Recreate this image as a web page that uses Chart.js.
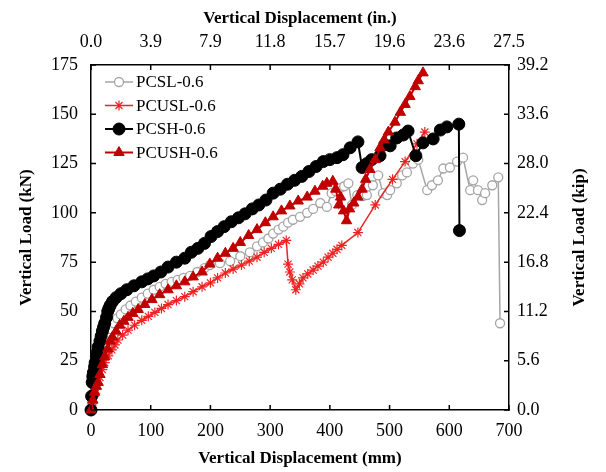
<!DOCTYPE html>
<html>
<head>
<meta charset="utf-8">
<script src="https://cdn.jsdelivr.net/npm/chart.js@4/dist/chart.umd.min.js"></script>
<style>
  html, body { margin: 0; padding: 0; background: #fff; }
  #wrap { width: 606px; height: 472px; }
</style>
</head>
<body>
<div id="wrap"><canvas id="chart" width="606" height="472"></canvas></div>
<script>
// Displacement in mm, load in kN
const pcslDisp = [0, 2, 5, 8, 11, 14, 17, 20, 24, 28, 33, 38, 44, 50, 58, 66, 75, 85, 95, 105, 115, 125, 135, 145, 155, 166, 178, 190, 199, 216, 233, 250, 266, 278, 288, 297, 305, 314, 322, 330, 338, 350, 362, 372, 384, 395, 403, 410, 417, 424, 431, 437, 446, 455, 462, 472, 481, 489, 496, 501, 512, 521, 529, 539, 548, 563, 571, 581, 590, 601, 613, 623, 635, 640, 648, 655, 660, 672, 682, 685]
const pcslLoad = [0, 4, 9, 13, 17, 21, 25, 29, 33, 37, 41, 44, 46.5, 48.5, 51, 53, 55, 57, 59, 61, 62.5, 64, 65, 66, 67, 68, 70, 72, 73.5, 74.5, 75.5, 78, 80, 83, 85, 87, 89.5, 91.5, 93, 95, 96.5, 98, 100, 102, 105, 103, 110, 111, 112.5, 113.5, 115, 104, 109, 108.5, 109, 114, 119, 110, 109, 111.5, 115, 119, 120.5, 125, 127, 111.5, 114, 116.5, 122.5, 123, 126, 128, 111.5, 116.5, 111.5, 106.5, 110, 114, 118, 44]

const pcuslDisp = [0, 3, 7, 11, 15, 19, 23, 29, 35, 40, 45, 53, 62, 73, 85, 96, 107, 118, 129, 143, 157, 171, 186, 200, 212, 225, 238, 252, 265, 278, 290, 302, 314, 327, 330, 333, 337, 343, 349, 355, 363, 372, 380, 389, 397, 405, 412, 420, 447, 476, 505, 526, 546, 559]
const pcuslLoad = [0, 4, 8.5, 12.5, 16.5, 20.5, 24, 27.5, 30.5, 33, 35.5, 38, 40.5, 43, 45.5, 47.5, 49.5, 51.5, 53.5, 55.5, 57.5, 60, 62.5, 64.5, 67, 69.5, 71.5, 73.5, 75.5, 77.5, 80, 82, 84, 86, 74, 70, 66, 61, 64, 67, 69, 71, 73, 75, 77.5, 79.5, 81.5, 83.5, 90, 104, 117, 126, 135, 141]

const pcshDisp = [0, 1, 2, 3, 4, 6, 7, 9, 10, 12, 15, 17, 19, 21, 23, 26, 28, 30, 32, 36, 42, 50, 60, 72, 85, 95, 105, 117, 129, 143, 157, 168, 179, 190, 201, 212, 223, 235, 247, 258, 270, 281, 293, 305, 317, 329, 341, 353, 365, 377, 389, 400, 412, 422, 434, 447, 454, 462, 470, 484, 492, 501, 512, 523, 531, 544, 556, 573, 585, 596, 616, 617]
const pcshLoad = [0, 7, 14, 17, 19, 22, 24, 27, 29, 32, 35, 37.5, 40, 42, 44, 47, 50, 51.5, 53, 55, 57, 59, 61, 63, 65, 66.5, 68, 70, 72.5, 75, 77, 80, 82, 84.5, 88, 90.5, 93, 95.5, 97.5, 99.5, 102, 104, 106.5, 110, 112, 114.5, 116.5, 118.5, 121, 123.5, 126, 127, 128, 129.5, 133, 136, 123, 125, 127, 129, 134.5, 134, 138, 139.5, 141.5, 129, 135.5, 137.5, 142, 143.6, 145, 91]

const pcushDisp = [0, 3, 6, 9, 12, 15, 19, 23, 28, 32, 36, 42, 48, 55, 62, 70, 79, 90, 102, 115, 129, 143, 157, 171, 186, 199, 212, 225, 238, 250, 264, 278, 292, 305, 319, 333, 347, 362, 375, 388, 395, 405, 410, 415, 418, 423, 428, 433, 440, 447, 454, 460, 467, 476, 484, 491, 498, 509, 518, 526, 534, 543, 548, 556]
const pcushLoad = [0, 5, 9, 12, 14, 18, 23, 27, 31, 35, 37, 40, 43, 45, 47, 49, 51, 53.5, 56, 58.5, 61, 63, 65, 67.5, 70, 74, 77, 79.5, 82, 85, 88.5, 91.5, 95, 98, 101, 103.5, 106, 108, 111, 113.5, 115, 116, 112, 104, 108, 101, 96, 102, 105, 108, 112, 117, 122, 127, 133, 137, 141, 146, 151, 155, 159, 164, 167, 171]

// secondary axis labels (same positions as the mm / kN ticks)
const inchTickLabels = ['0.0', '3.9', '7.9', '11.8', '15.7', '19.6', '23.6', '27.5']
const kipTickLabels = ['0.0', '5.6', '11.2', '16.8', '22.4', '28.0', '33.6', '39.2']
const kipTitle = 'Vertical Load (kip)'

const SERIF = '"Liberation Serif", "Times New Roman", serif'

function points (xs, ys) {
  return xs.map((x, i) => ({ x, y: ys[i] }))
}

// inward tick marks on all four sides
const innerTicks = {
  id: 'innerTicks',
  afterDatasetsDraw (chart) {
    const { ctx, chartArea: a, scales } = chart
    const len = 5
    ctx.save()
    ctx.strokeStyle = '#000'
    ctx.lineWidth = 1.5
    ctx.beginPath()
    for (const t of scales.x.ticks) {
      const px = scales.x.getPixelForValue(t.value)
      ctx.moveTo(px, a.bottom)
      ctx.lineTo(px, a.bottom - len)
    }
    for (const t of scales.x2.ticks) {
      const px = scales.x2.getPixelForValue(t.value)
      ctx.moveTo(px, a.top)
      ctx.lineTo(px, a.top + len)
    }
    for (const t of scales.y.ticks) {
      const py = scales.y.getPixelForValue(t.value)
      ctx.moveTo(a.left, py)
      ctx.lineTo(a.left + len, py)
    }
    for (const t of scales.y2.ticks) {
      const py = scales.y2.getPixelForValue(t.value)
      ctx.moveTo(a.right, py)
      ctx.lineTo(a.right - len, py)
    }
    ctx.stroke()
    ctx.restore()
  }
}

// right axis title reads bottom-to-top in the original, like the left one
const rightTitle = {
  id: 'rightTitle',
  afterDraw (chart) {
    const { ctx, chartArea: a } = chart
    ctx.save()
    ctx.translate(580, (a.top + a.bottom) / 2)
    ctx.rotate(-Math.PI / 2)
    ctx.fillStyle = '#000'
    ctx.font = 'bold 17px ' + SERIF
    ctx.textAlign = 'center'
    ctx.textBaseline = 'middle'
    ctx.fillText(kipTitle, 0, 0)
    ctx.restore()
  }
}

// legend drawn inside the plot, line sample with marker in the middle
const insideLegend = {
  id: 'insideLegend',
  afterDraw (chart) {
    const { ctx, chartArea } = chart
    const x0 = chartArea.left + 14
    let y = chartArea.top + 17
    for (const ds of chart.data.datasets) {
      ctx.save()
      ctx.strokeStyle = ds.borderColor
      ctx.lineWidth = ds.borderWidth
      ctx.beginPath()
      ctx.moveTo(x0, y)
      ctx.lineTo(x0 + 28, y)
      ctx.stroke()
      ctx.fillStyle = ds.pointBackgroundColor
      ctx.strokeStyle = ds.pointBorderColor
      ctx.lineWidth = ds.pointBorderWidth
      Chart.helpers.drawPoint(ctx, {
        pointStyle: ds.pointStyle,
        radius: ds.pointRadius,
        rotation: 0,
        borderWidth: ds.pointBorderWidth
      }, x0 + 14, y)
      ctx.fillStyle = '#000'
      ctx.font = '17px ' + SERIF
      ctx.textBaseline = 'middle'
      ctx.textAlign = 'left'
      ctx.fillText(ds.label, x0 + 31, y + 1)
      ctx.restore()
      y += 23.5
    }
  }
}

const tickFont = { family: SERIF, size: 18 }
const titleFont = { family: SERIF, size: 17, weight: 'bold' }
const frame = { display: true, color: '#000', width: 1.5 }

new Chart(document.getElementById('chart'), {
  type: 'line',
  data: {
    datasets: [
      {
        label: 'PCSL-0.6',
        data: points(pcslDisp, pcslLoad),
        borderColor: '#a5a5a5',
        borderWidth: 1.5,
        pointStyle: 'circle',
        pointRadius: 4.5,
        pointBackgroundColor: '#ffffff',
        pointBorderColor: '#a5a5a5',
        pointBorderWidth: 1.3,
        order: 4
      },
      {
        label: 'PCUSL-0.6',
        data: points(pcuslDisp, pcuslLoad),
        borderColor: '#ee2222',
        borderWidth: 1.5,
        pointStyle: 'star',
        pointRadius: 5,
        pointBackgroundColor: '#ee2222',
        pointBorderColor: '#ee2222',
        pointBorderWidth: 1.2,
        order: 3
      },
      {
        label: 'PCSH-0.6',
        data: points(pcshDisp, pcshLoad),
        borderColor: '#000000',
        borderWidth: 2,
        pointStyle: 'circle',
        pointRadius: 6,
        pointBackgroundColor: '#000000',
        pointBorderColor: '#000000',
        pointBorderWidth: 1,
        order: 2
      },
      {
        label: 'PCUSH-0.6',
        data: points(pcushDisp, pcushLoad),
        borderColor: '#c00000',
        borderWidth: 2,
        pointStyle: 'triangle',
        pointRadius: 6,
        pointBackgroundColor: '#c00000',
        pointBorderColor: '#c00000',
        pointBorderWidth: 1,
        order: 1
      }
    ]
  },
  options: {
    responsive: false,
    animation: false,
    clip: false,
    layout: { padding: 0 },
    plugins: {
      legend: { display: false },
      tooltip: { enabled: false }
    },
    elements: { line: { tension: 0 } },
    scales: {
      x: {
        type: 'linear',
        position: 'bottom',
        min: 0,
        max: 700,
        grid: { display: false, drawTicks: false },
        border: frame,
        ticks: { stepSize: 100, font: tickFont, color: '#000', padding: 10, maxRotation: 0 },
        title: { display: true, text: 'Vertical Displacement (mm)', font: titleFont, color: '#000', padding: { top: 0, bottom: 3 } },
        afterFit: (s) => { s.height = 62 }
      },
      x2: {
        type: 'linear',
        position: 'top',
        min: 0,
        max: 700,
        grid: { display: false, drawTicks: false },
        border: frame,
        ticks: {
          stepSize: 100,
          font: tickFont,
          color: '#000',
          padding: 12,
          maxRotation: 0,
          callback: (v, i) => inchTickLabels[i]
        },
        title: { display: true, text: 'Vertical Displacement (in.)', font: titleFont, color: '#000', padding: { top: 8, bottom: 0 } },
        afterFit: (s) => { s.height = 65 }
      },
      y: {
        type: 'linear',
        position: 'left',
        min: 0,
        max: 175,
        grid: { display: false, drawTicks: false },
        border: frame,
        ticks: { stepSize: 25, font: tickFont, color: '#000', padding: 13 },
        title: { display: true, text: 'Vertical Load (kN)', font: titleFont, color: '#000', padding: { top: 16, bottom: 0 } },
        afterFit: (s) => { s.width = 91 }
      },
      y2: {
        type: 'linear',
        position: 'right',
        min: 0,
        max: 175,
        grid: { display: false, drawTicks: false },
        border: frame,
        ticks: {
          stepSize: 25,
          font: tickFont,
          color: '#000',
          padding: 8,
          callback: (v, i) => kipTickLabels[i]
        },
        title: { display: false },
        afterFit: (s) => { s.width = 97 }
      }
    }
  },
  plugins: [innerTicks, insideLegend, rightTitle]
})
</script>
</body>
</html>
